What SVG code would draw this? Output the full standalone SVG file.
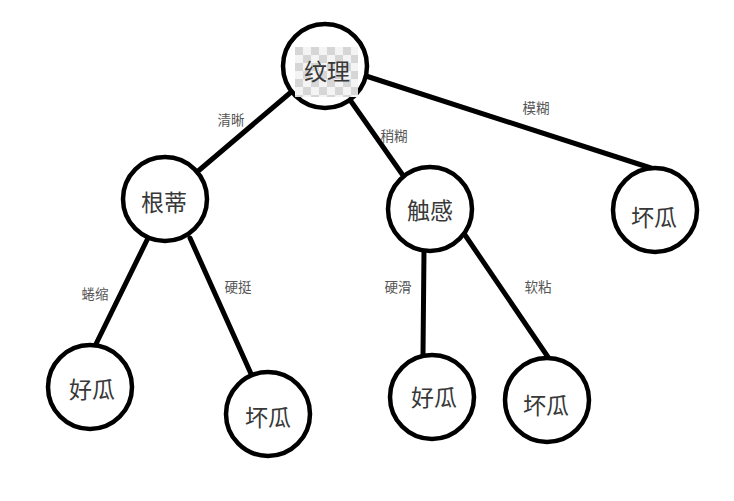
<svg xmlns="http://www.w3.org/2000/svg" width="734" height="501" viewBox="0 0 734 501">
<defs>
<style>
.node circle{fill:#fff;stroke:#000;stroke-width:4.5}
.node text{font-family:"Noto Sans CJK SC","Noto Sans",sans-serif;font-size:23px;fill:#383838;text-anchor:middle;dominant-baseline:central}
.edge line{stroke:#000;stroke-width:5;stroke-linecap:round}
.lbl{font-family:"Noto Sans CJK SC","Noto Sans",sans-serif;font-size:13.5px;fill:#555;text-anchor:middle;dominant-baseline:central}
</style>
<pattern id="chk" x="295" y="47" width="16" height="16" patternUnits="userSpaceOnUse">
<rect width="16" height="16" fill="#f4f4f4"/>
<rect width="8" height="8" fill="#d6d6d6"/>
<rect x="8" y="8" width="8" height="8" fill="#d6d6d6"/>
</pattern>
</defs>
<rect width="734" height="501" fill="#fff"/>
<g id="connectors" class="edge">
<line x1="290" y1="93" x2="197" y2="172"/>
<line x1="348" y1="97" x2="402" y2="174"/>
<line x1="366" y1="76" x2="657" y2="170"/>
<line x1="148" y1="238" x2="95" y2="346"/>
<line x1="190" y1="238" x2="252" y2="376"/>
<line x1="424" y1="250" x2="423" y2="355"/>
<line x1="465" y1="235" x2="550" y2="360"/>
</g>
<g id="edge-labels">
<text class="lbl" x="231" y="119">清晰</text>
<text class="lbl" x="394" y="135">稍糊</text>
<text class="lbl" x="536" y="107">模糊</text>
<text class="lbl" x="95" y="293">蜷缩</text>
<text class="lbl" x="238" y="286">硬挺</text>
<text class="lbl" x="398" y="286">硬滑</text>
<text class="lbl" x="538" y="286">软粘</text>
</g>
<g id="n-wenli" class="node">
<circle cx="325" cy="66" r="42"/>
<rect x="295" y="47" width="63" height="50" fill="url(#chk)"/>
<text x="327" y="70">纹理</text>
</g>
<g id="n-gendi" class="node">
<circle cx="165" cy="199" r="42"/>
<text x="164" y="201">根蒂</text>
</g>
<g id="n-chugan" class="node">
<circle cx="430" cy="209" r="42"/>
<text x="430" y="209">触感</text>
</g>
<g id="n-huaigua1" class="node">
<circle cx="655" cy="210" r="42"/>
<text x="654" y="216">坏瓜</text>
</g>
<g id="n-haogua1" class="node">
<circle cx="90" cy="387" r="42"/>
<text x="92" y="388">好瓜</text>
</g>
<g id="n-huaigua2" class="node">
<circle cx="268" cy="414" r="42"/>
<text x="268" y="416">坏瓜</text>
</g>
<g id="n-haogua2" class="node">
<circle cx="432" cy="397" r="42"/>
<text x="434" y="396">好瓜</text>
</g>
<g id="n-huaigua3" class="node">
<circle cx="547" cy="400" r="42"/>
<text x="546" y="404">坏瓜</text>
</g>
</svg>
